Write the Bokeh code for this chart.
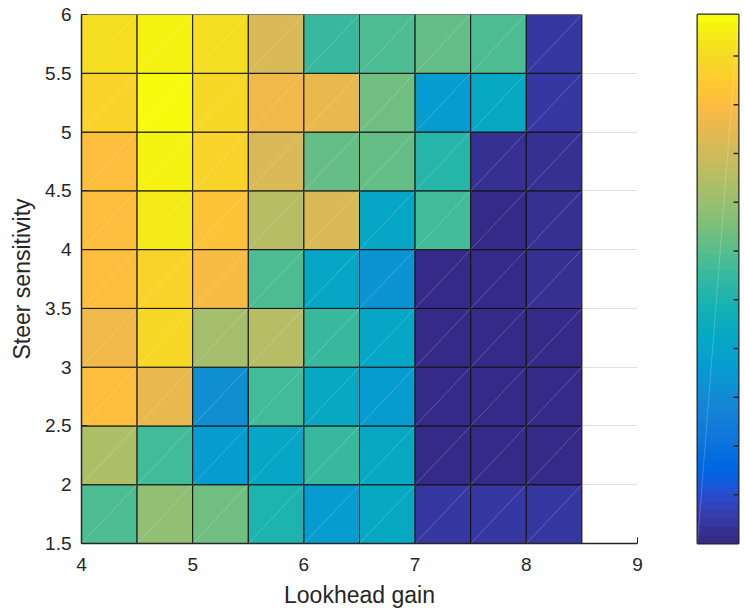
import numpy as np
from bokeh.plotting import figure
from bokeh.models import ColumnDataSource, LinearColorMapper, FixedTicker
from bokeh.layouts import row
from bokeh.transform import transform
from bokeh.embed import file_html
from bokeh.resources import INLINE

# Parula colormap, 64 levels
PARULA = [
    "#352a87", "#363093", "#3637a0", "#353dad", "#3243ba", "#2c4ac7", "#2053d4", "#0f5cdd",
    "#0363e1", "#0268e1", "#046de0", "#0871de", "#0d75dc", "#1079da", "#127dd8", "#1481d6",
    "#1485d4", "#1389d3", "#108ed2", "#0c93d2", "#0998d1", "#079ccf", "#06a0cd", "#06a4ca",
    "#06a7c6", "#07a9c2", "#0aacbe", "#0faeb9", "#15b1b4", "#1db3af", "#25b5a9", "#2eb7a4",
    "#38b99e", "#42bb98", "#4dbc92", "#59bd8c", "#65be86", "#71bf80", "#7cbf7b", "#87bf77",
    "#92bf73", "#9cbf6f", "#a5be6b", "#aebe67", "#b7bd64", "#c0bc60", "#c8bc5d", "#d1bb59",
    "#d9ba56", "#e1b952", "#e9b94e", "#f1b94a", "#f8bb44", "#fdbe3d", "#ffc337", "#fec832",
    "#fcce2e", "#fad32a", "#f7d826", "#f5de21", "#f5e41d", "#f5eb18", "#f6f313", "#f9fb0e",
]

# Sweep grid (lower-left corner of each cell)
lookahead_gain = [4.0, 4.5, 5.0, 5.5, 6.0, 6.5, 7.0, 7.5, 8.0]
steer_sensitivity = [1.5, 2.0, 2.5, 3.0, 3.5, 4.0, 4.5, 5.0, 5.5]
STEP = 0.5

# score[i][j]: i indexes steer sensitivity, j indexes lookahead gain
score = [
    [0.585, 0.687, 0.636, 0.500, 0.364, 0.432, 0.042, 0.042, 0.042],  # 1.5
    [0.737, 0.568, 0.364, 0.415, 0.551, 0.432, 0.008, 0.008, 0.008],  # 2.0
    [0.907, 0.856, 0.314, 0.568, 0.432, 0.364, 0.008, 0.008, 0.008],  # 2.5
    [0.873, 0.992, 0.720, 0.754, 0.551, 0.415, 0.008, 0.008, 0.008],  # 3.0
    [0.907, 0.975, 0.890, 0.585, 0.415, 0.331, 0.008, 0.008, 0.025],  # 3.5
    [0.907, 1.043, 0.924, 0.754, 0.822, 0.415, 0.568, 0.008, 0.025],  # 4.0
    [0.907, 1.060, 0.975, 0.822, 0.619, 0.619, 0.517, 0.025, 0.025],  # 4.5
    [0.975, 1.077, 0.992, 0.873, 0.856, 0.636, 0.364, 0.432, 0.042],  # 5.0
    [1.009, 1.060, 1.009, 0.822, 0.551, 0.585, 0.619, 0.585, 0.042],  # 5.5
]

CLIM = (0.0, 1.085)
CB_TICKS = [0.1, 0.2, 0.3, 0.4, 0.5, 0.6, 0.7, 0.8, 0.9, 1.0]
X_TICKS = [4, 5, 6, 7, 8, 9]
Y_TICKS = [1.5, 2, 2.5, 3, 3.5, 4, 4.5, 5, 5.5, 6]

AX = "#262626"
FONT = "Liberation Sans"

# Flatten grid into cell rectangles
left, right, bottom, top, vals = [], [], [], [], []
for i, s in enumerate(steer_sensitivity):
    for j, g in enumerate(lookahead_gain):
        left.append(g)
        right.append(g + STEP)
        bottom.append(s)
        top.append(s + STEP)
        vals.append(score[i][j])
src = ColumnDataSource(dict(left=left, right=right, bottom=bottom, top=top, score=vals))

mapper = LinearColorMapper(palette=PARULA, low=CLIM[0], high=CLIM[1])

p = figure(width=660, height=612, x_range=(4, 9), y_range=(1.5, 6),
           output_backend="svg", toolbar_location=None,
           min_border_left=81, min_border_right=23, min_border_top=14, min_border_bottom=69)
p.outline_line_color = None
p.background_fill_color = "white"
p.border_fill_color = "white"

p.quad(left="left", right="right", bottom="bottom", top="top", source=src,
       fill_color=transform("score", mapper), line_color="#111111", line_width=1)
# faint triangle seams of the surface patches
p.segment(x0="left", y0="bottom", x1="right", y1="top", source=src,
          line_color="white", line_alpha=0.25, line_width=0.8)

p.xaxis.ticker = FixedTicker(ticks=X_TICKS)
p.yaxis.ticker = FixedTicker(ticks=Y_TICKS)
p.xaxis.axis_label = "Lookhead gain"
p.yaxis.axis_label = "Steer sensitivity"
for ax in (p.xaxis[0], p.yaxis[0]):
    ax.axis_line_color = AX
    ax.axis_line_width = 1.5
    ax.major_tick_line_color = AX
    ax.major_tick_in = 6
    ax.major_tick_out = 0
    ax.minor_tick_line_color = None
    ax.major_label_text_font = FONT
    ax.major_label_text_font_size = "19px"
    ax.major_label_text_color = AX
    ax.axis_label_text_font = FONT
    ax.axis_label_text_font_size = "23px"
    ax.axis_label_text_font_style = "normal"
    ax.axis_label_text_color = AX
p.xaxis.major_label_standoff = 14
p.xaxis.axis_label_standoff = 8
p.yaxis.major_label_standoff = 10
p.yaxis.axis_label_standoff = 7

p.grid.grid_line_color = AX
p.grid.grid_line_alpha = 0.15
p.grid.grid_line_width = 1

# Colorbar
cb = figure(width=84, height=612, x_range=(0, 1), y_range=CLIM,
            output_backend="svg", toolbar_location=None,
            x_axis_location=None, y_axis_location=None,
            min_border_left=37, min_border_right=6, min_border_top=14, min_border_bottom=69)
cb.grid.visible = False
cb.outline_line_color = AX
cb.outline_line_width = 2
cb.border_fill_color = "white"
n = len(PARULA)
levels = CLIM[0] + (np.arange(n) + 0.5) / n * (CLIM[1] - CLIM[0])
cb.image(image=[levels.reshape(n, 1)], x=0, y=CLIM[0], dw=1, dh=CLIM[1] - CLIM[0],
         color_mapper=mapper)
cb.segment(x0=[0], y0=[CLIM[0]], x1=[1], y1=[CLIM[1]],
           line_color="white", line_alpha=0.25, line_width=0.8)
# inward tick marks along the right edge of the colour bar
cb.segment(x0=[0.88] * len(CB_TICKS), y0=CB_TICKS, x1=[1.0] * len(CB_TICKS), y1=CB_TICKS,
           line_color=AX, line_width=1.5)

layout = row(p, cb, spacing=0)
open("out.html", "w").write(file_html(layout, INLINE))
